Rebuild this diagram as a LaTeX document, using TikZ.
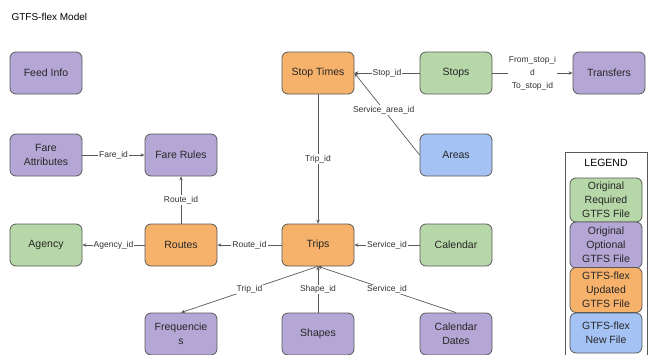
\documentclass[tikz,border=0pt]{standalone}
\usepackage{fontspec}
\setmainfont{Liberation Sans}
\usetikzlibrary{arrows.meta}
\definecolor{reqgreen}{HTML}{B6D7A8}
\definecolor{optpurple}{HTML}{B4A7D6}
\definecolor{updorange}{HTML}{F6B26B}
\definecolor{newblue}{HTML}{A4C2F4}
\definecolor{edgegray}{HTML}{595959}
\tikzset{
  box/.style={draw=edgegray, line width=0.8pt, rounded corners=6pt,
    minimum width=72pt, minimum height=42pt, align=center,
    font=\fontsize{10.5}{14}\selectfont, text=black!85},
  req/.style={box, fill=reqgreen},
  opt/.style={box, fill=optpurple},
  upd/.style={box, fill=updorange},
  new/.style={box, fill=newblue},
  link/.style={draw=edgegray, line width=0.7pt, -{Stealth[length=4pt,width=3.5pt]}},
  lbl/.style={fill=white, inner sep=1pt, align=center,
    font=\fontsize{8.5}{13}\selectfont, text=black!80}
}
\begin{document}
\begin{tikzpicture}[x=1pt,y=-1pt]
\useasboundingbox (0,0) rectangle (648,354);
\node[anchor=west, font=\fontsize{10}{12}\selectfont] (title) at (8,17) {GTFS-flex Model};
% first row
\node[opt] (feedinfo) at (46,73) {Feed Info};
\node[upd] (stoptimes) at (318,73) {Stop Times};
\node[req] (stops) at (456,73) {Stops};
\node[opt] (transfers) at (609,73) {Transfers};
% second row
\node[opt] (fareattr) at (46,155) {Fare\\Attributes};
\node[opt] (farerules) at (181,155) {Fare Rules};
\node[new] (areas) at (456,155) {Areas};
% third row
\node[req] (agency) at (46,245) {Agency};
\node[upd] (routes) at (181,245) {Routes};
\node[upd] (trips) at (318,245) {Trips};
\node[req] (calendar) at (456,245) {Calendar};
% fourth row
\node[opt] (freq) at (181,334) {Frequencie\\s};
\node[opt] (shapes) at (318,334) {Shapes};
\node[opt] (caldates) at (456,334) {Calendar\\Dates};
% connectors
\draw[link] (stops) -- node[lbl] {Stop\_id} (stoptimes);
\draw[link] (stops) -- node[lbl] {From\_stop\_i\\d\\To\_stop\_id} (transfers);
\draw[link] (areas.west) -- node[lbl, pos=0.55] {Service\_area\_id} (stoptimes.east);
\draw[link] (stoptimes) -- node[lbl] {Trip\_id} (trips);
\draw[link] (fareattr) -- node[lbl] {Fare\_id} (farerules);
\draw[link] (routes) -- node[lbl] {Route\_id} (farerules);
\draw[link] (routes) -- node[lbl] {Agency\_id} (agency);
\draw[link] (trips) -- node[lbl] {Route\_id} (routes);
\draw[link] (calendar) -- node[lbl] {Service\_id} (trips);
\draw[link] (trips.south) -- node[lbl] {Trip\_id} (freq.north);
\draw[link] (shapes) -- node[lbl] {Shape\_id} (trips);
\draw[link] (caldates.north) -- node[lbl] {Service\_id} (trips.south);
% legend
\draw[edgegray, line width=0.6pt] (565,152) rectangle (647,362);
\node[font=\fontsize{10.5}{12}\selectfont] (legendtitle) at (606,163) {LEGEND};
\node[req, minimum width=72pt, minimum height=44pt] (legreq) at (606,200) {Original\\Required\\GTFS File};
\node[opt, minimum width=72pt, minimum height=46pt] (legopt) at (606,245) {Original\\Optional\\GTFS File};
\node[upd, minimum width=72pt, minimum height=45pt] (legupd) at (606,290) {GTFS-flex\\Updated\\GTFS File};
\node[new, minimum width=72pt, minimum height=40pt] (legnew) at (606,333) {GTFS-flex\\New File};
\end{tikzpicture}
\end{document}
